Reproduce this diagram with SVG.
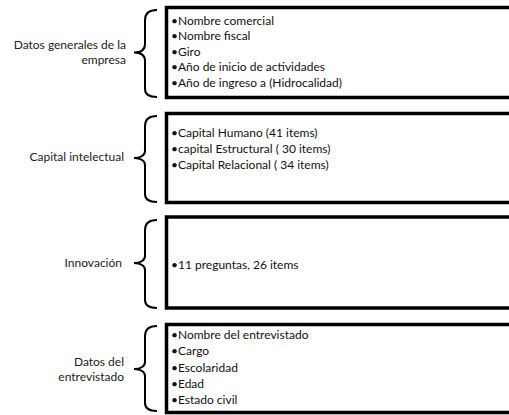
<svg xmlns="http://www.w3.org/2000/svg" width="509" height="415" viewBox="0 0 509 415">
<style>
.box{fill:#fff;stroke:#000;stroke-width:3.5}
.brace{fill:none;stroke:#000;stroke-width:2}
.lbl{font-family:Lato,"Liberation Sans",sans-serif;font-size:12px;fill:#222;text-anchor:end}
.item{font-family:Lato,"Liberation Sans",sans-serif;font-size:12px;fill:#111}
</style>
<rect width="509" height="415" fill="#fff"/>
<g id="connectors">
<path class="brace" d="M157,10 C149,10 145,13 145,20 L145,44 C145,50 141,52.5 134,52.5 C141,52.5 145,55 145,61 L145,89 C145,94 149,97 157,97"/>
<path class="brace" d="M157,116 C149,116 145,119 145,126 L145,151 C145,155 141,158 134,158 C141,158 145,161 145,165 L145,194 C145,199 149,202 157,202"/>
<path class="brace" d="M157,220 C149,220 145,223 145,230 L145,256 C145,260 141,263 134,263 C141,263 145,266 145,270 L145,300 C145,305 149,308 157,308"/>
<path class="brace" d="M157,326 C149,326 145,329 145,336 L145,362 C145,366 141,369 134,369 C141,369 145,372 145,376 L145,403 C145,408 149,411 157,411"/>
</g>
<g id="n1">
<text class="lbl" x="126" y="49">Datos generales de la</text>
<text class="lbl" x="126" y="64">empresa</text>
<rect class="box" x="166.5" y="7.5" width="350" height="90"/>
<text class="item" x="171" y="24.5">•Nombre comercial</text>
<text class="item" x="171" y="40">•Nombre fiscal</text>
<text class="item" x="171" y="55.5">•Giro</text>
<text class="item" x="171" y="71">•Año de inicio de actividades</text>
<text class="item" x="171" y="86.5">•Año de ingreso a (Hidrocalidad)</text>
</g>
<g id="n2">
<text class="lbl" x="124" y="161">Capital intelectual</text>
<rect class="box" x="166.5" y="113.5" width="350" height="89"/>
<text class="item" x="171" y="137">•Capital Humano (41 items)</text>
<text class="item" x="171" y="153">•capital Estructural ( 30 items)</text>
<text class="item" x="171" y="169">•Capital Relacional ( 34 items)</text>
</g>
<g id="n3">
<text class="lbl" x="122" y="267">Innovación</text>
<rect class="box" x="166.5" y="217" width="350" height="91"/>
<text class="item" x="171" y="269">•11 preguntas, 26 items</text>
</g>
<g id="n4">
<text class="lbl" x="124" y="366">Datos del</text>
<text class="lbl" x="124" y="381">entrevistado</text>
<rect class="box" x="166.5" y="324.5" width="350" height="88"/>
<text class="item" x="171" y="339">•Nombre del entrevistado</text>
<text class="item" x="171" y="355">•Cargo</text>
<text class="item" x="171" y="371.5">•Escolaridad</text>
<text class="item" x="171" y="388">•Edad</text>
<text class="item" x="171" y="403.5">•Estado civil</text>
</g>
</svg>
